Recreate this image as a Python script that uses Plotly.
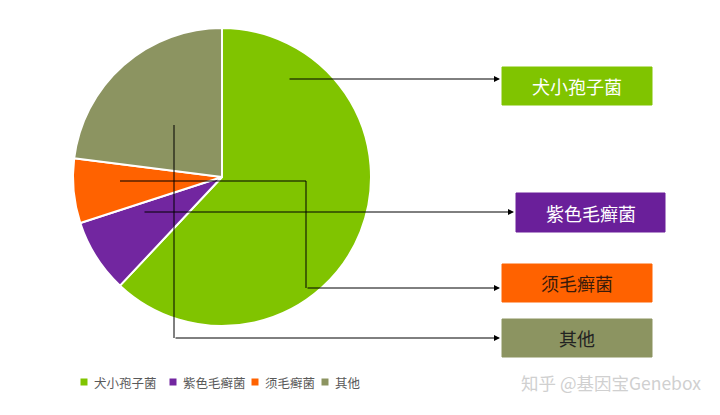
import plotly.graph_objects as go

W, H = 720, 415

categories = ["犬小孢子菌", "紫色毛癣菌", "须毛癣菌", "其他"]
values = [62, 8, 7, 23]
colors = ["#80C400", "#7226A0", "#FF6200", "#8C9461"]
box_text_colors = ["#FFFFFF", "#FFFFFF", "#3A1A0A", "#222222"]

def px(x):
    return x / W

def py(y):
    return 1 - y / H

fig = go.Figure()

# Pie centre (222,177), radius 149
cx, cy, r = 222, 177, 149
fig.add_trace(go.Pie(
    labels=categories, values=values, sort=False, direction="clockwise", rotation=0,
    marker=dict(colors=colors, line=dict(color="#FFFFFF", width=2)),
    textinfo="none", hoverinfo="label+value", showlegend=False,
    domain=dict(x=[px(cx - r), px(cx + r)], y=[py(cy + r), py(cy - r)]),
))

shapes = []
annotations = []

# Label boxes (left, top, right, bottom) in pixels
boxes = [(502, 67, 652, 105), (516, 193, 665, 232), (502, 264, 652, 302), (502, 319, 652, 357)]
# Leader lines: list of points, last segment ends with arrow at box edge
leaders = [
    [(288, 79), (500, 79)],
    [(143, 212), (514, 212)],
    [(120, 181), (306, 181), (306, 288), (500, 288)],
    [(174, 125), (174, 338), (500, 338)],
]

for i, cat in enumerate(categories):
    l, t, rr, b = boxes[i]
    fill = colors[i]
    if i == 1:
        fill = "#6A1F9A"
    shapes.append(dict(type="rect", xref="paper", yref="paper",
                       x0=px(l), x1=px(rr), y0=py(b), y1=py(t),
                       fillcolor=fill, line=dict(color=fill, width=1), layer="above"))
    annotations.append(dict(xref="paper", yref="paper", x=px((l + rr) / 2), y=py((t + b) / 2),
                            text=cat, showarrow=False, xanchor="center", yanchor="middle",
                            font=dict(size=18, color=box_text_colors[i],
                                      family="Noto Sans CJK SC")))
    pts = leaders[i]
    if len(pts) > 2:
        path = "M " + " L ".join(f"{px(x)},{py(y)}" for x, y in pts[:-1])
        shapes.append(dict(type="path", xref="paper", yref="paper", path=path,
                           line=dict(color="#000000", width=1), layer="above"))
    (x0, y0), (x1, y1) = pts[-2], pts[-1]
    annotations.append(dict(xref="paper", yref="paper", axref="pixel", ayref="pixel",
                            x=px(x1), y=py(y1), ax=x0 - x1, ay=y0 - y1, text="",
                            showarrow=True, arrowhead=2, arrowsize=1.2, arrowwidth=1,
                            arrowcolor="#000000", standoff=0, startstandoff=0))

# Manual legend
leg_x = [84, 173, 255, 325]
leg_y = 382
for i, cat in enumerate(categories):
    x = leg_x[i]
    shapes.append(dict(type="rect", xref="paper", yref="paper",
                       x0=px(x - 3.5), x1=px(x + 3.5), y0=py(leg_y + 3.5), y1=py(leg_y - 3.5),
                       fillcolor=colors[i], line=dict(width=0)))
    annotations.append(dict(xref="paper", yref="paper", x=px(x + 8), y=py(leg_y),
                            text=cat, showarrow=False, xanchor="left", yanchor="middle",
                            font=dict(size=12.5, color="#595959", family="Noto Sans CJK SC")))

# Watermark
annotations.append(dict(xref="paper", yref="paper", x=px(703), y=py(382),
                        text="知乎 @基因宝Genebox", showarrow=False, xanchor="right",
                        yanchor="middle",
                        font=dict(size=17.5, color="#D0D0D0", family="Noto Sans CJK SC")))

fig.update_layout(
    width=W, height=H, margin=dict(l=0, r=0, t=0, b=0),
    paper_bgcolor="#FFFFFF", plot_bgcolor="#FFFFFF",
    shapes=shapes, annotations=annotations, showlegend=False,
)

fig.write_html("out.html")
